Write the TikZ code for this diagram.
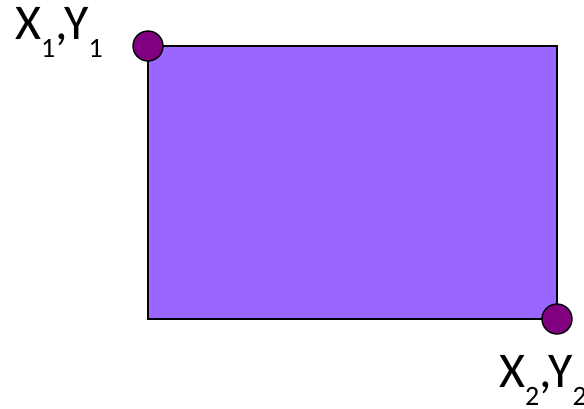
\documentclass[tikz,border=0pt]{standalone}
\usepackage{fontspec}
\setmainfont{Carlito}
\definecolor{boxviolet}{HTML}{9966FF}
\definecolor{dotpurple}{HTML}{800080}
\newcommand{\sub}[1]{\raisebox{-18pt}{\fontsize{28}{28}\selectfont #1}}

\begin{document}
\begin{tikzpicture}[x=1pt,y=-1pt,
    corner dot/.style={circle,draw=black,line width=1.4pt,fill=dotpurple,minimum size=30pt,inner sep=0pt},
    coord label/.style={anchor=base west,inner sep=0pt,font=\fontsize{50}{50}\selectfont}]
\useasboundingbox (0,0) rectangle (584,408);

\coordinate (c1) at (148,46);
\coordinate (c2) at (557,319);
\draw [fill=boxviolet,line width=1.4pt] (c1) rectangle (c2);

\node[corner dot] (p1) at (c1) {};
\node[corner dot] (p2) at (c2) {};

\node[coord label] (l1) at (15,39) {X\sub{1},Y\sub{1}};
\node[coord label] (l2) at (499,387) {X\sub{2},Y\sub{2}};

\end{tikzpicture}
\end{document}
